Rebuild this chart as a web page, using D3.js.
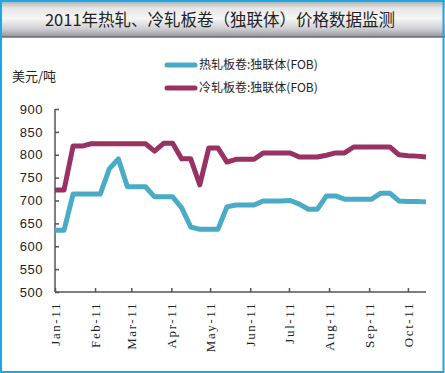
<!DOCTYPE html>
<meta charset="utf-8">
<style>
body { margin: 0; background: #fff; }
svg { display: block; }
.axis path, .axis line { stroke: #555; stroke-width: 1.5; fill: none; }
.ytick text { font: 13px "Liberation Sans", Arial, sans-serif; fill: #222; letter-spacing: 0.5px; }
.xtick text { font: 13px "Liberation Serif", "Times New Roman", serif; fill: #222; letter-spacing: 1.6px; }
</style>
<head>
<script src="https://d3js.org/d3.v7.min.js"></script>
</head>
<body>
<script>

// weekly dates, Jan 1 2011 .. Oct 15 2011
var startDate = new Date(2011, 0, 1);
var weeks = d3.range(42).map(function(i){ return d3.timeDay.offset(startDate, i * 7); });

// 热轧板卷 (hot rolled), USD/t
var hotRolled = [635, 635, 714, 714, 714, 714, 769, 791, 730, 730,
                 730, 708, 708, 708, 684, 642, 637, 637, 637, 686,
                 690, 690, 690, 699, 699, 699, 700, 692, 681, 681,
                 710, 710, 703, 703, 703, 703, 716, 716, 699, 698,
                 698, 697];

// 冷轧板卷 (cold rolled), USD/t
var coldRolled = [723, 723, 819, 819, 824, 824, 824, 824, 824, 824,
                  824, 808, 825, 825, 791, 791, 734, 815, 815, 784,
                  790, 790, 790, 804, 804, 804, 804, 795, 795, 795,
                  799, 804, 804, 817, 817, 817, 817, 817, 800, 798,
                  797, 795];

var yTicks = [500, 550, 600, 650, 700, 750, 800, 850, 900];
var monthTicks = d3.range(10).map(function(m){ return new Date(2011, m, 1); });

var seriesNames = ["热轧板卷:独联体(FOB)", "冷轧板卷:独联体(FOB)"];
var seriesColors = ["#4aabc6", "#983264"];

var W = 445, H = 373;

var svg = d3.select("body").append("svg")
    .attr("width", W)
    .attr("height", H);

// title bar gradient
var grad = svg.append("defs").append("linearGradient")
    .attr("id", "titleGrad")
    .attr("x1", 0).attr("y1", 0).attr("x2", 0).attr("y2", 1);
grad.append("stop").attr("offset", "0%").attr("stop-color", "#a4a4a6");
grad.append("stop").attr("offset", "22%").attr("stop-color", "#e6e6e6");
grad.append("stop").attr("offset", "50%").attr("stop-color", "#f6f6f6");
grad.append("stop").attr("offset", "78%").attr("stop-color", "#cfcfd3");
grad.append("stop").attr("offset", "100%").attr("stop-color", "#93939c");

svg.append("rect")
    .attr("x", 0).attr("y", 0)
    .attr("width", W).attr("height", 37)
    .attr("fill", "url(#titleGrad)");

svg.append("line")
    .attr("x1", 0).attr("x2", W)
    .attr("y1", 37).attr("y2", 37)
    .attr("stroke", "#6a6a70")
    .attr("stroke-width", 1.5);

svg.append("text")
    .attr("x", 220)
    .attr("y", 26)
    .attr("text-anchor", "middle")
    .style("font", "16.5px 'Noto Sans CJK SC', sans-serif")
    .style("fill", "#222")
    .text("2011年热轧、冷轧板卷（独联体）价格数据监测");

// outer frame
svg.append("rect")
    .attr("x", 1).attr("y", 1)
    .attr("width", W - 2.5).attr("height", H - 2)
    .attr("fill", "none")
    .attr("stroke", "#19a9e6")
    .attr("stroke-width", 2);

// scales
var x = d3.scaleTime()
    .domain([weeks[0], weeks[weeks.length - 1]])
    .range([55, 426]);

var y = d3.scaleLinear()
    .domain([500, 900])
    .range([292, 109]);

// y axis
var yAxis = svg.append("g")
    .attr("class", "axis ytick")
    .attr("transform", "translate(55,0)")
    .call(d3.axisLeft(y).tickValues(yTicks).tickSizeInner(-4).tickSizeOuter(0).tickPadding(12));
yAxis.select(".domain").attr("d", "M0," + y(900) + "V" + y(500));

// x axis
var xAxis = svg.append("g")
    .attr("class", "axis xtick")
    .attr("transform", "translate(0,292)")
    .call(d3.axisBottom(x).tickValues(monthTicks).tickSizeInner(-4).tickSizeOuter(0)
        .tickFormat(d3.timeFormat("%b-%y")));
xAxis.select(".domain").attr("d", "M55,0H426");
xAxis.selectAll("text")
    .attr("transform", "rotate(-90)")
    .attr("text-anchor", "end")
    .attr("x", -10)
    .attr("y", 0)
    .attr("dy", "0.35em");

// unit label
svg.append("text")
    .attr("x", 12)
    .attr("y", 81)
    .style("font", "13px 'Noto Sans CJK SC', sans-serif")
    .style("fill", "#222")
    .text("美元/吨");

// lines
var line = d3.line()
    .x(function(d, i){ return x(weeks[i]); })
    .y(function(d){ return y(d); });

[hotRolled, coldRolled].forEach(function(s, k) {
    svg.append("path")
        .datum(s)
        .attr("d", line)
        .attr("fill", "none")
        .attr("stroke", seriesColors[k])
        .attr("stroke-width", 5)
        .attr("stroke-linejoin", "round");
});

// legend
var legend = svg.selectAll(".legend")
    .data(seriesNames)
    .enter().append("g")
    .attr("class", "legend")
    .attr("transform", function(d, i){ return "translate(167," + (65 + i * 23) + ")"; });

legend.append("line")
    .attr("x1", 0).attr("x2", 28)
    .attr("stroke", function(d, i){ return seriesColors[i]; })
    .attr("stroke-width", 5)
    .attr("stroke-linecap", "round");

legend.append("text")
    .attr("x", 32)
    .attr("dy", "0.35em")
    .style("font", "12px 'Noto Sans CJK SC', sans-serif")
    .style("fill", "#222")
    .text(function(d){ return d; });

</script>
</body>
</html>
